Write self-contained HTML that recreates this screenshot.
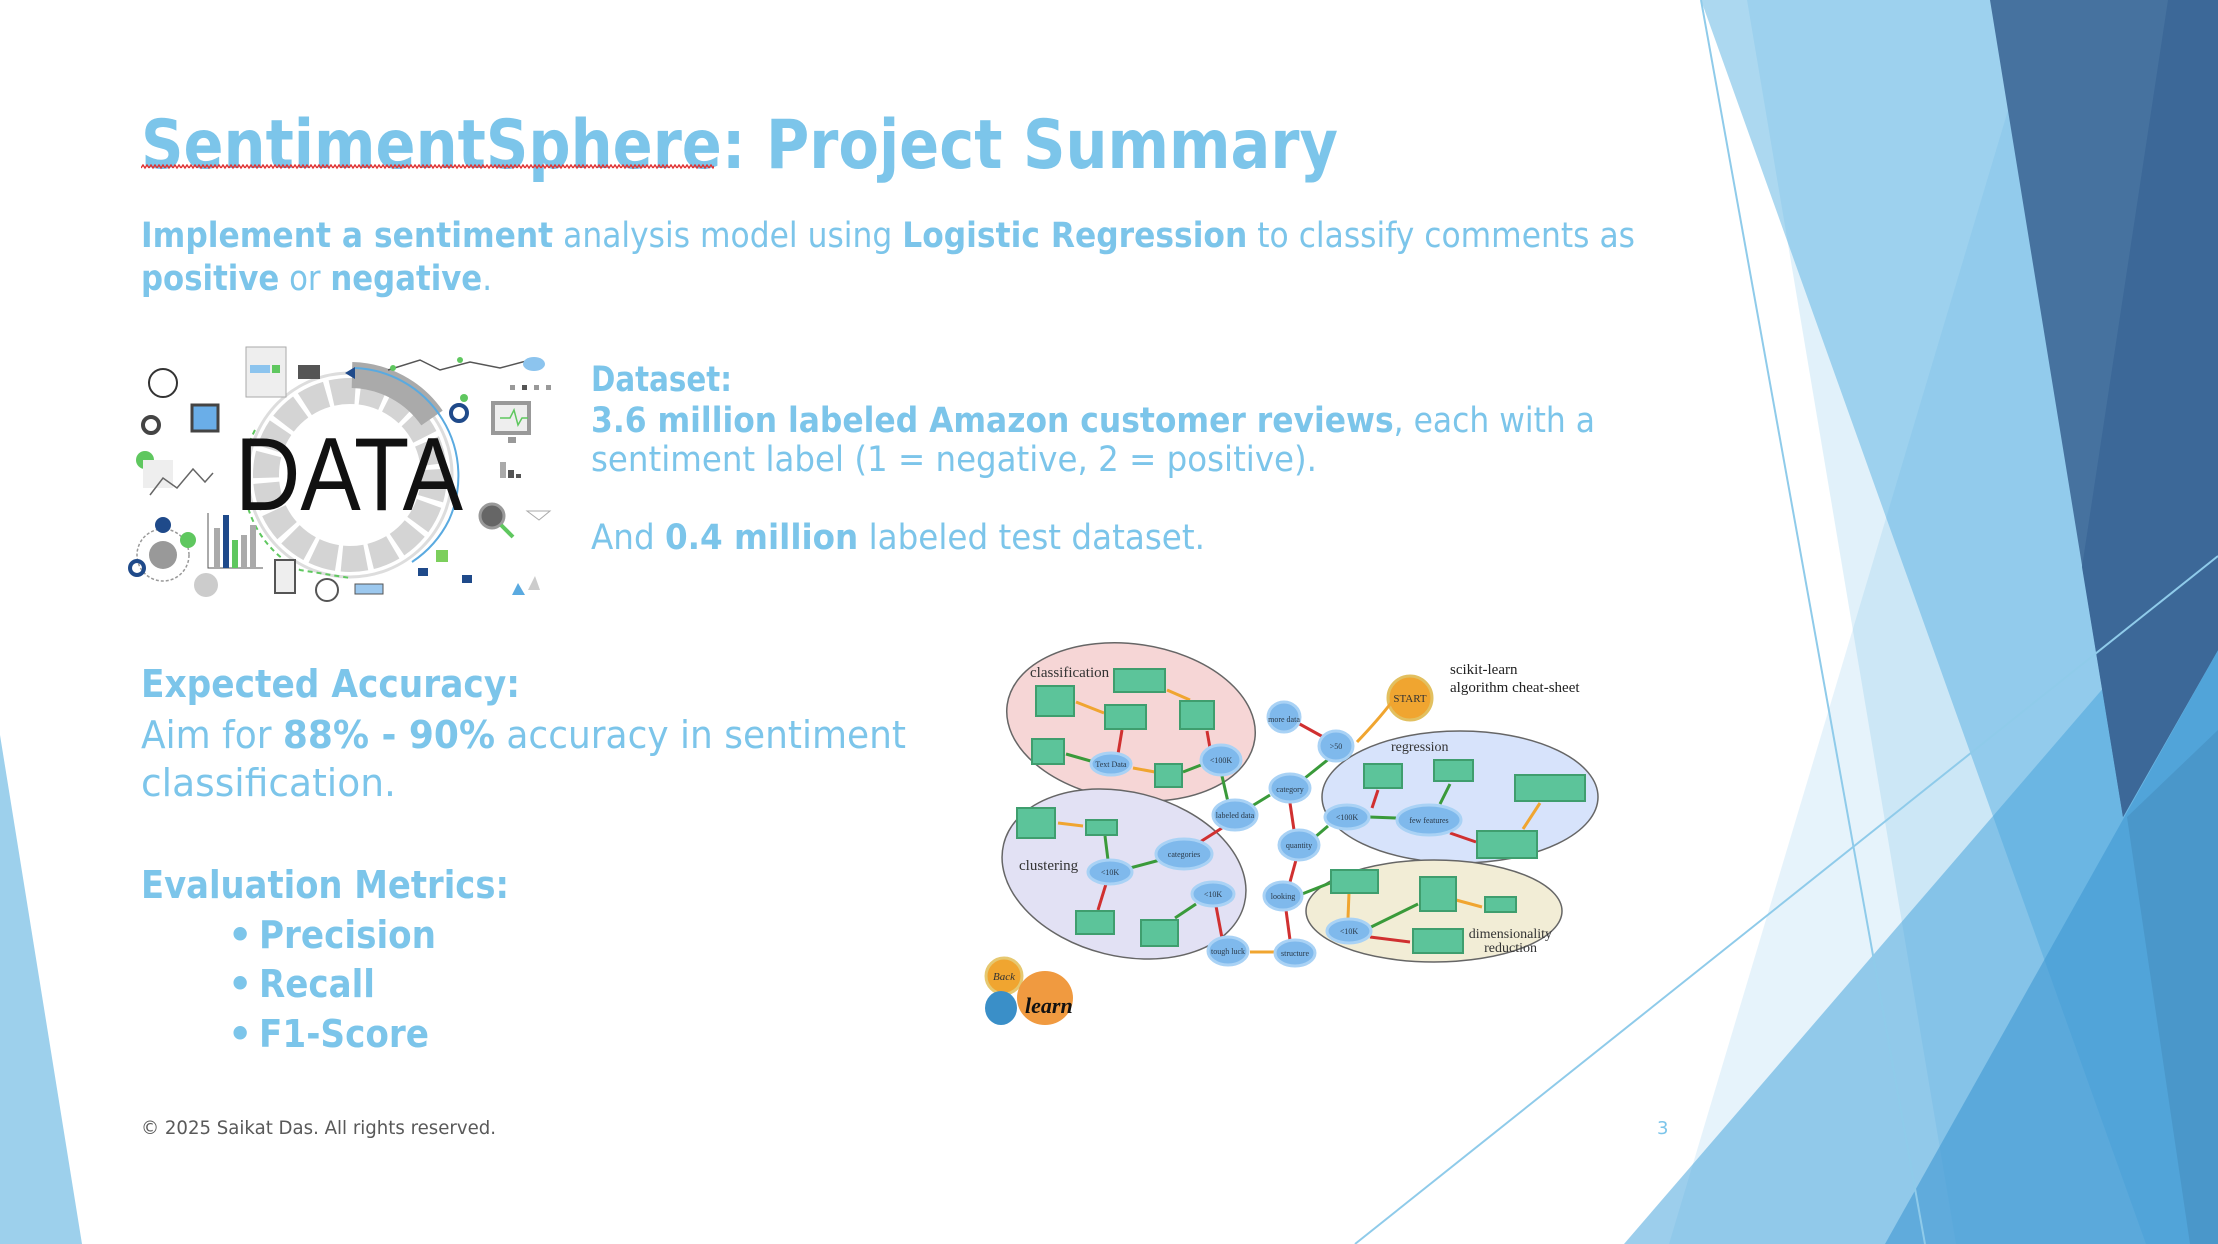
<!DOCTYPE html>
<html><head><meta charset="utf-8"><style>
html,body{margin:0;padding:0;background:#fff;}
svg{display:block;}
.s{font-family:"DejaVu Sans","Liberation Sans",sans-serif;}
.r{font-family:"Liberation Serif",serif;}
</style></head><body>
<svg width="2218" height="1244" viewBox="0 0 2218 1244" xmlns="http://www.w3.org/2000/svg">
<defs>
<pattern id="zz" x="141" y="164" width="8" height="6" patternUnits="userSpaceOnUse">
<path d="M0,4 L2,1 L4,4 L6,1 L8,4" fill="none" stroke="#e03030" stroke-width="1.4"/>
</pattern>
</defs>
<rect width="2218" height="1244" fill="#fff"/>
<g>
<polygon points="1747,0 2218,0 2218,1244 1956,1244" fill="#5ab1e1" fill-opacity="0.18"/>
<polygon points="1701,0 2218,0 2218,1244 2146,1244" fill="#5ab1e1" fill-opacity="0.5"/>
<polygon points="2041,0 2218,0 2218,1244 1669,1244" fill="#5ab1e1" fill-opacity="0.15"/>
<polygon points="1624,1244 2218,555 2218,1244" fill="#4aa6dc" fill-opacity="0.55"/>
<polygon points="1885,1244 2218,650 2218,1244" fill="#3f97d2" fill-opacity="0.6"/>
<polygon points="1990,0 2218,0 2218,650 2123,817" fill="#46729f"/>
<polygon points="2168,0 2218,0 2218,650 2123,817 2082,567" fill="#3c6898"/>
<polygon points="2127,817 2218,730 2218,1244 2190,1244" fill="#4893c6" fill-opacity="0.8"/>
<line x1="1701" y1="0" x2="1925" y2="1244" stroke="#8fcbea" stroke-width="2"/>
<line x1="1355" y1="1244" x2="2218" y2="556" stroke="#8fcbea" stroke-width="2"/>
<polygon points="0,735 82,1244 0,1244" fill="#9dd0ec"/>
</g>
<g class="s">
<text x="141" y="168" font-size="68" font-weight="bold" fill="#7cc5ea" textLength="1197" lengthAdjust="spacingAndGlyphs">SentimentSphere: Project Summary</text>
<rect x="141" y="164" width="573" height="6" fill="url(#zz)"/>
<g fill="#7cc5ea" font-size="35">
<text x="141" y="247" textLength="1494" lengthAdjust="spacingAndGlyphs"><tspan font-weight="bold">Implement a sentiment</tspan> analysis model using <tspan font-weight="bold">Logistic Regression</tspan> to classify comments as</text>
<text x="141" y="290" textLength="351" lengthAdjust="spacingAndGlyphs"><tspan font-weight="bold">positive</tspan> or <tspan font-weight="bold">negative</tspan>.</text>
<text x="591" y="391" font-weight="bold" textLength="141" lengthAdjust="spacingAndGlyphs">Dataset:</text>
<text x="591" y="432" textLength="1004" lengthAdjust="spacingAndGlyphs"><tspan font-weight="bold">3.6 million labeled Amazon customer reviews</tspan>, each with a</text>
<text x="591" y="471" textLength="726" lengthAdjust="spacingAndGlyphs">sentiment label (1 = negative, 2 = positive).</text>
<text x="591" y="549" textLength="614" lengthAdjust="spacingAndGlyphs">And <tspan font-weight="bold">0.4 million</tspan> labeled test dataset.</text>
<text x="141" y="697" font-size="38" font-weight="bold" textLength="379" lengthAdjust="spacingAndGlyphs">Expected Accuracy:</text>
<text x="141" y="748" font-size="38" textLength="765" lengthAdjust="spacingAndGlyphs">Aim for <tspan font-weight="bold">88% - 90%</tspan> accuracy in sentiment</text>
<text x="141" y="796" font-size="38" textLength="255" lengthAdjust="spacingAndGlyphs">classification.</text>
<text x="141" y="898" font-size="38" font-weight="bold" textLength="368" lengthAdjust="spacingAndGlyphs">Evaluation Metrics:</text>
<g font-size="38" font-weight="bold">
<text x="228" y="948">•</text><text x="259" y="948" textLength="177" lengthAdjust="spacingAndGlyphs">Precision</text>
<text x="228" y="997">•</text><text x="259" y="997" textLength="116" lengthAdjust="spacingAndGlyphs">Recall</text>
<text x="228" y="1047">•</text><text x="259" y="1047" textLength="170" lengthAdjust="spacingAndGlyphs">F1-Score</text>
</g>
</g>
<text x="141" y="1134" font-size="19" fill="#595959" textLength="355" lengthAdjust="spacingAndGlyphs">© 2025 Saikat Das. All rights reserved.</text>
<text x="1657" y="1134" font-size="18" fill="#7cc5ea">3</text>
</g>

<g class="s">
<circle cx="350" cy="475" r="102" fill="none" stroke="#ddd" stroke-width="3"/>
<circle cx="350" cy="475" r="84" fill="none" stroke="#d4d4d4" stroke-width="26" stroke-dasharray="24 5"/>
<path d="M352,375 A100,100 0 0 1 432,418" fill="none" stroke="#aaa" stroke-width="26"/>
<path d="M355,368 A108,108 0 0 1 449,520 A108,108 0 0 1 412,562" fill="none" stroke="#5aaae0" stroke-width="2"/>
<path d="M255,430 A104,104 0 0 0 300,570 L350,578" fill="none" stroke="#5fc75f" stroke-width="2" stroke-dasharray="5 4"/>
<polygon points="345,373 355,367 355,379" fill="#1f4a8a"/>
<text x="235" y="510" font-size="104" fill="#111" style="font-family:'Liberation Sans',sans-serif" textLength="228" lengthAdjust="spacingAndGlyphs">DATA</text>
<circle cx="163" cy="383" r="14" fill="none" stroke="#333" stroke-width="2"/>
<rect x="192" y="405" width="26" height="26" fill="#6aaee8" stroke="#444" stroke-width="3"/>
<circle cx="151" cy="425" r="8" fill="none" stroke="#444" stroke-width="4"/>
<rect x="246" y="347" width="40" height="50" fill="#eee" stroke="#aaa"/>
<rect x="250" y="365" width="20" height="8" fill="#8cc4ee"/><rect x="272" y="365" width="8" height="8" fill="#5fc75f"/>
<rect x="298" y="365" width="22" height="14" fill="#555"/>
<circle cx="145" cy="460" r="9" fill="#5fc75f"/>
<rect x="143" y="460" width="30" height="28" fill="#eee"/>
<polyline points="150,495 163,478 177,488 193,469 205,482 213,473" fill="none" stroke="#666" stroke-width="1.5"/>
<circle cx="163" cy="555" r="26" fill="none" stroke="#999" stroke-width="1.5" stroke-dasharray="3 2"/>
<circle cx="163" cy="555" r="14" fill="#999"/>
<circle cx="163" cy="525" r="8" fill="#1f4a8a"/><circle cx="188" cy="540" r="8" fill="#5fc75f"/>
<circle cx="137" cy="568" r="7" fill="none" stroke="#1f4a8a" stroke-width="4"/>
<polyline points="208,513 208,568 263,568" fill="none" stroke="#555"/>
<rect x="214" y="528" width="6" height="40" fill="#aaa"/><rect x="223" y="515" width="6" height="53" fill="#1f4a8a"/>
<rect x="232" y="540" width="6" height="28" fill="#5fc75f"/><rect x="241" y="535" width="6" height="33" fill="#aaa"/><rect x="250" y="525" width="6" height="43" fill="#aaa"/>
<rect x="275" y="560" width="20" height="33" fill="#eee" stroke="#555" stroke-width="2"/>
<circle cx="327" cy="590" r="11" fill="none" stroke="#555" stroke-width="2"/>
<rect x="355" y="584" width="28" height="10" fill="#9cc8ee" stroke="#555"/>
<circle cx="206" cy="585" r="12" fill="#ccc"/>
<polyline points="388,370 420,360 440,370 470,362 500,368 530,360" fill="none" stroke="#555" stroke-width="1.5"/>
<circle cx="393" cy="368" r="3" fill="#5fc75f"/><circle cx="460" cy="360" r="3" fill="#5fc75f"/>
<ellipse cx="534" cy="364" rx="11" ry="7" fill="#8cc4ee"/>
<rect x="510" y="385" width="5" height="5" fill="#999"/><rect x="522" y="385" width="5" height="5" fill="#555"/><rect x="534" y="385" width="5" height="5" fill="#999"/><rect x="546" y="385" width="5" height="5" fill="#999"/>
<circle cx="459" cy="413" r="8" fill="none" stroke="#1f4a8a" stroke-width="4"/>
<circle cx="464" cy="398" r="4" fill="#5fc75f"/>
<rect x="493" y="403" width="36" height="30" fill="#eee" stroke="#999" stroke-width="4"/>
<rect x="508" y="437" width="8" height="6" fill="#999"/>
<polyline points="500,418 510,418 514,410 518,425 522,418 528,418" fill="none" stroke="#5fc75f" stroke-width="1.5"/>
<rect x="500" y="462" width="6" height="16" fill="#aaa"/><rect x="508" y="470" width="6" height="8" fill="#555"/><rect x="516" y="474" width="5" height="4" fill="#555"/>
<circle cx="492" cy="516" r="12" fill="#666" stroke="#999" stroke-width="3"/>
<line x1="501" y1="525" x2="513" y2="537" stroke="#5fc75f" stroke-width="4"/>
<polygon points="527,511 550,511 539,520" fill="#fff" stroke="#aaa"/>
<rect x="436" y="550" width="12" height="12" fill="#7ccf5c"/>
<rect x="418" y="568" width="10" height="8" fill="#1f4a8a"/><rect x="462" y="575" width="10" height="8" fill="#1f4a8a"/>
<polygon points="525,595 518,583 512,595" fill="#5aaae0"/><polygon points="540,590 535,576 528,590" fill="#ccc"/>
</g>

<g class="r">
<ellipse cx="1131" cy="722" rx="125" ry="78" transform="rotate(8 1131 722)" fill="#f6d6d6" stroke="#666" stroke-width="1.5"/>
<ellipse cx="1124" cy="874" rx="124" ry="82" transform="rotate(14 1124 874)" fill="#e2e1f4" stroke="#666" stroke-width="1.5"/>
<ellipse cx="1460" cy="797" rx="138" ry="66" fill="#d7e3fb" stroke="#666" stroke-width="1.5"/>
<ellipse cx="1434" cy="911" rx="128" ry="51" fill="#f2edd6" stroke="#666" stroke-width="1.5"/>
<text x="1030" y="677" font-size="15" fill="#333">classification</text>
<text x="1019" y="870" font-size="15" fill="#333">clustering</text>
<text x="1391" y="751" font-size="14" fill="#333">regression</text>
<text x="1552" y="938" font-size="14" fill="#333" text-anchor="end">dimensionality</text>
<text x="1537" y="952" font-size="14" fill="#333" text-anchor="end">reduction</text>
<text x="1450" y="674" font-size="15" fill="#222">scikit-learn</text>
<text x="1450" y="692" font-size="15" fill="#222">algorithm cheat-sheet</text>
<circle cx="1410" cy="698" r="22" fill="#f0a530" stroke="#e2c060" stroke-width="3"/>
<text x="1410" y="702" font-size="11" text-anchor="middle" fill="#333">START</text>
<g stroke-width="3" fill="none">
<path d="M1391,703 Q1378,720 1357,742" stroke="#f0a530"/>
<path d="M1325,738 L1296,722" stroke="#d03030"/>
<path d="M1330,758 L1305,778" stroke="#3a9a3a"/>
<path d="M1270,795 L1252,806" stroke="#3a9a3a"/>
<path d="M1228,802 L1222,776" stroke="#3a9a3a"/>
<path d="M1290,803 L1294,830" stroke="#d03030"/>
<path d="M1314,838 L1328,826" stroke="#3a9a3a"/>
<path d="M1369,817 L1396,818" stroke="#3a9a3a"/>
<path d="M1296,860 L1290,882" stroke="#d03030"/>
<path d="M1286,910 L1290,940" stroke="#d03030"/>
<path d="M1274,952 L1250,952" stroke="#f0a530"/>
<path d="M1302,894 L1330,883" stroke="#3a9a3a"/>
<path d="M1222,828 L1200,842" stroke="#d03030"/>
<path d="M1160,860 L1130,868" stroke="#3a9a3a"/>
<path d="M1108,860 L1105,836" stroke="#3a9a3a"/>
<path d="M1106,884 L1098,910" stroke="#d03030"/>
<path d="M1196,904 L1175,918" stroke="#3a9a3a"/>
<path d="M1216,906 L1222,938" stroke="#d03030"/>
<path d="M1210,748 L1207,731" stroke="#d03030"/>
<path d="M1201,765 L1183,772" stroke="#3a9a3a"/>
<path d="M1155,772 L1133,768" stroke="#f0a530"/>
<path d="M1094,762 L1066,754" stroke="#3a9a3a"/>
<path d="M1118,754 L1122,730" stroke="#d03030"/>
<path d="M1104,713 L1076,702" stroke="#f0a530"/>
<path d="M1190,700 L1167,690" stroke="#f0a530"/>
<path d="M1365,930 L1418,904" stroke="#3a9a3a"/>
<path d="M1370,937 L1410,942" stroke="#d03030"/>
<path d="M1349,893 L1348,918" stroke="#f0a530"/>
<path d="M1456,900 L1482,907" stroke="#f0a530"/>
<path d="M1450,833 L1476,842" stroke="#d03030"/>
<path d="M1440,804 L1450,784" stroke="#3a9a3a"/>
<path d="M1372,808 L1378,790" stroke="#d03030"/>
<path d="M1523,829 L1540,803" stroke="#f0a530"/>
<path d="M1083,826 L1058,823" stroke="#f0a530"/>
</g>
<g fill="#7fb9ec" stroke="#a9d2f5" stroke-width="3">
<ellipse cx="1284" cy="717" rx="16" ry="15"/>
<ellipse cx="1336" cy="746" rx="17" ry="15"/>
<ellipse cx="1290" cy="788" rx="20" ry="14"/>
<ellipse cx="1235" cy="815" rx="22" ry="15"/>
<ellipse cx="1221" cy="760" rx="20" ry="15"/>
<ellipse cx="1111" cy="764" rx="20" ry="11"/>
<ellipse cx="1347" cy="817" rx="22" ry="12"/>
<ellipse cx="1429" cy="820" rx="32" ry="15"/>
<ellipse cx="1299" cy="845" rx="20" ry="15"/>
<ellipse cx="1184" cy="854" rx="28" ry="15"/>
<ellipse cx="1110" cy="872" rx="22" ry="12"/>
<ellipse cx="1213" cy="894" rx="21" ry="12"/>
<ellipse cx="1283" cy="896" rx="19" ry="14"/>
<ellipse cx="1228" cy="951" rx="20" ry="14"/>
<ellipse cx="1295" cy="953" rx="20" ry="13"/>
<ellipse cx="1349" cy="931" rx="22" ry="12"/>
</g>
<g fill="#2a3a4a" font-size="8" text-anchor="middle">
<text x="1284" y="722">more data</text><text x="1336" y="749">&gt;50</text>
<text x="1290" y="792">category</text><text x="1235" y="818">labeled data</text>
<text x="1221" y="763">&lt;100K</text><text x="1111" y="767">Text Data</text>
<text x="1347" y="820">&lt;100K</text><text x="1429" y="823">few features</text>
<text x="1299" y="848">quantity</text><text x="1184" y="857">categories</text>
<text x="1110" y="875">&lt;10K</text><text x="1213" y="897">&lt;10K</text>
<text x="1283" y="899">looking</text><text x="1228" y="954">tough luck</text>
<text x="1295" y="956">structure</text><text x="1349" y="934">&lt;10K</text>
</g>
<g fill="#5cc49a" stroke="#3f9e6e" stroke-width="2">
<rect x="1036" y="686" width="38" height="30"/>
<rect x="1114" y="669" width="51" height="23"/>
<rect x="1105" y="705" width="41" height="24"/>
<rect x="1180" y="701" width="34" height="28"/>
<rect x="1032" y="739" width="32" height="25"/>
<rect x="1155" y="764" width="27" height="23"/>
<rect x="1017" y="808" width="38" height="30"/>
<rect x="1086" y="820" width="31" height="15"/>
<rect x="1076" y="911" width="38" height="23"/>
<rect x="1141" y="920" width="37" height="26"/>
<rect x="1364" y="764" width="38" height="24"/>
<rect x="1434" y="760" width="39" height="21"/>
<rect x="1515" y="775" width="70" height="26"/>
<rect x="1477" y="831" width="60" height="27"/>
<rect x="1331" y="870" width="47" height="23"/>
<rect x="1420" y="877" width="36" height="34"/>
<rect x="1485" y="897" width="31" height="15"/>
<rect x="1413" y="929" width="50" height="24"/>
</g>
<circle cx="1004" cy="976" r="18" fill="#f0a530" stroke="#e6c870" stroke-width="3"/>
<text x="1004" y="980" font-size="11" font-style="italic" text-anchor="middle" fill="#333">Back</text>
<ellipse cx="1001" cy="1008" rx="16" ry="17" fill="#3a8fc8"/>
<ellipse cx="1045" cy="998" rx="28" ry="27" fill="#f09a40"/>
<text x="1025" y="1013" font-size="22" font-style="italic" font-weight="bold" fill="#111">learn</text>
</g>
</svg>
</body></html>
